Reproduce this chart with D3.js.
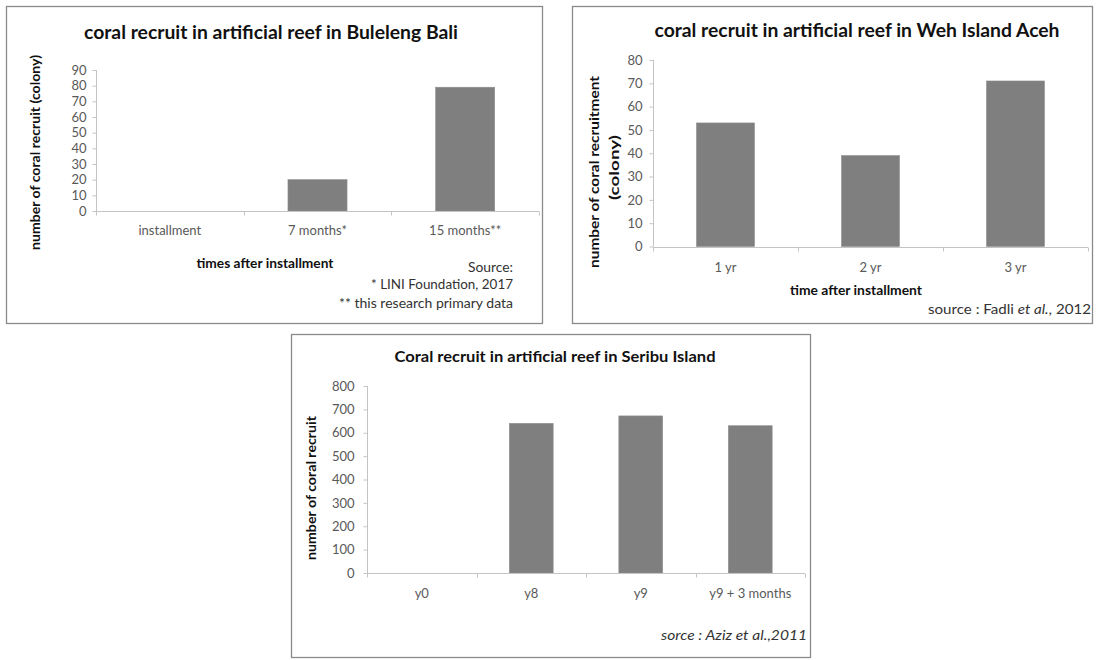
<!DOCTYPE html>
<html>
<head>
<meta charset="utf-8">
<script src="https://cdn.jsdelivr.net/npm/d3@7/dist/d3.min.js"></script>
<style>
  html, body { margin: 0; padding: 0; background: #ffffff; }
  svg { display: block; }
  text { font-family: Lato, "Open Sans", sans-serif; }
</style>
</head>
<body>
<svg id="chart" width="1099" height="660"></svg>
<script>
// ---- Buleleng Bali ----
const bulelengCategories = ["installment", "7 months*", "15 months**"];
const bulelengValues = [0, 20, 79];
const bulelengTicks = [0, 10, 20, 30, 40, 50, 60, 70, 80, 90];
const bulelengTitle = "coral recruit in artificial reef in Buleleng Bali";
const bulelengYTitle = ["number of coral recruit (colony)"];
const bulelengXTitle = "times after installment";
const bulelengSource = ["Source:", "* LINI Foundation, 2017", "** this research primary data"];

// ---- Weh Island Aceh ----
const wehCategories = ["1 yr", "2 yr", "3 yr"];
const wehValues = [53, 39, 71];
const wehTicks = [0, 10, 20, 30, 40, 50, 60, 70, 80];
const wehTitle = "coral recruit in artificial reef in Weh Island Aceh";
const wehYTitle = ["number of coral recruitment", "(colony)"];
const wehXTitle = "time after installment";

// ---- Seribu Island ----
const seribuCategories = ["y0", "y8", "y9", "y9 + 3 months"];
const seribuValues = [0, 640, 672, 630];
const seribuTicks = [0, 100, 200, 300, 400, 500, 600, 700, 800];
const seribuTitle = "Coral recruit in artificial reef in Seribu Island";
const seribuYTitle = ["number of coral recruit"];

const svg = d3.select("#chart");

const BAR = "#7f7f7f";
const AXIS = "#c4c4c4";
const TICKTEXT = "#595959";
const FRAME = "#8a8a8a";

// stretch or shrink a text element to a given rendered width
function fit(sel, width) {
  sel.each(function () {
    const w = this.getComputedTextLength();
    if (Math.abs(w - width) > 1) {
      d3.select(this).attr("textLength", width).attr("lengthAdjust", "spacingAndGlyphs");
    }
  });
  return sel;
}

function drawPanel(cfg) {
  const g = svg.append("g");

  // outer frame
  g.append("rect")
    .attr("x", cfg.box[0] + 0.5).attr("y", cfg.box[1] + 0.5)
    .attr("width", cfg.box[2] - cfg.box[0]).attr("height", cfg.box[3] - cfg.box[1])
    .attr("fill", "#fff").attr("stroke", FRAME).attr("stroke-width", 1.3);

  const x = d3.scaleBand()
    .domain(cfg.categories)
    .range([cfg.plotX[0], cfg.plotX[1]])
    .paddingInner(0.6)
    .paddingOuter(0.3);

  const y = d3.scaleLinear()
    .domain([0, d3.max(cfg.ticks)])
    .range([cfg.plotY[0], cfg.plotY[1]]);

  // y axis
  const yAxis = g.append("g")
    .attr("transform", `translate(${cfg.plotX[0] + 0.5},0)`)
    .call(d3.axisLeft(y).tickValues(cfg.ticks).tickSize(4).tickPadding(cfg.tickPad).tickFormat(d3.format("d")));
  yAxis.select(".domain").attr("stroke", AXIS).attr("d", `M0,${y(0)}V${y(d3.max(cfg.ticks))}`);
  yAxis.selectAll(".tick line").attr("stroke", AXIS);
  yAxis.selectAll(".tick text")
    .attr("fill", TICKTEXT)
    .style("font-size", cfg.tickFont + "px")
    .style("font-family", "Lato, sans-serif");

  // bars
  g.selectAll("rect.bar")
    .data(cfg.values)
    .join("rect")
    .attr("class", "bar")
    .attr("x", (d, i) => x(cfg.categories[i]))
    .attr("width", x.bandwidth())
    .attr("y", d => y(d))
    .attr("height", d => y(0) - y(d))
    .attr("fill", BAR)
    .attr("stroke", "#8e8e8e")
    .attr("stroke-width", 0.6);

  // x axis baseline and separators between categories
  const step = x.step();
  const y0 = Math.round(y(0)) + 0.5;
  g.append("line")
    .attr("x1", cfg.plotX[0]).attr("x2", cfg.plotX[1])
    .attr("y1", y0).attr("y2", y0)
    .attr("stroke", AXIS).attr("stroke-width", 1);
  g.selectAll("line.sep")
    .data(d3.range(cfg.categories.length + 1))
    .join("line")
    .attr("class", "sep")
    .attr("x1", i => Math.round(cfg.plotX[0] + i * step) + 0.5)
    .attr("x2", i => Math.round(cfg.plotX[0] + i * step) + 0.5)
    .attr("y1", y0).attr("y2", y0 + 4)
    .attr("stroke", AXIS);

  // category labels
  g.selectAll("text.cat")
    .data(cfg.categories)
    .join("text")
    .attr("class", "cat")
    .attr("x", d => x(d) + x.bandwidth() / 2)
    .attr("y", cfg.catY)
    .attr("text-anchor", "middle")
    .attr("dominant-baseline", "central")
    .attr("fill", TICKTEXT)
    .style("font-size", cfg.tickFont + "px")
    .text(d => d);

  // chart title
  fit(g.append("text")
    .attr("x", cfg.title.x).attr("y", cfg.title.y)
    .attr("text-anchor", "middle").attr("dominant-baseline", "central")
    .style("font-size", cfg.title.size + "px").style("font-weight", 700)
    .attr("fill", "#111")
    .text(cfg.title.text), cfg.title.width);

  // vertical axis title (one or more lines)
  cfg.yTitle.lines.forEach((line, i) => {
    fit(g.append("text")
      .attr("transform", `translate(${cfg.yTitle.xs[i]},${cfg.yTitle.ys[i]}) rotate(-90)`)
      .attr("text-anchor", "middle").attr("dominant-baseline", "central")
      .style("font-size", cfg.yTitle.size + "px").style("font-weight", 700)
      .attr("fill", "#111")
      .text(line), cfg.yTitle.widths[i]);
  });

  // horizontal axis title
  if (cfg.xTitle) {
    fit(g.append("text")
      .attr("x", cfg.xTitle.x).attr("y", cfg.xTitle.y)
      .attr("text-anchor", "middle").attr("dominant-baseline", "central")
      .style("font-size", cfg.xTitle.size + "px").style("font-weight", 700)
      .attr("fill", "#111")
      .text(cfg.xTitle.text), cfg.xTitle.width);
  }
  return g;
}

// Buleleng Bali
const p1 = drawPanel({
  box: [6, 6, 542, 323],
  categories: bulelengCategories, values: bulelengValues, ticks: bulelengTicks,
  plotX: [96, 539], plotY: [211, 70],
  tickFont: 13, tickPad: 6, catY: 230,
  title: { text: bulelengTitle, x: 271, y: 32, size: 18, width: 374 },
  yTitle: { lines: bulelengYTitle, xs: [35], ys: [152.5], size: 12.5, widths: [195] },
  xTitle: { text: bulelengXTitle, x: 265, y: 263, size: 13, width: 137 }
});
const srcYs = [267, 284, 303];
const srcWs = [45, 142, 174];
bulelengSource.forEach((s, i) => {
  fit(p1.append("text")
    .attr("x", 513).attr("y", srcYs[i])
    .attr("text-anchor", "end").attr("dominant-baseline", "central")
    .style("font-size", "12.5px").attr("fill", "#333")
    .text(s), srcWs[i]);
});

// Weh Island Aceh
const p2 = drawPanel({
  box: [572, 6, 1092, 323],
  categories: wehCategories, values: wehValues, ticks: wehTicks,
  plotX: [653, 1088], plotY: [246.5, 60],
  tickFont: 13, tickPad: 7, catY: 267,
  title: { text: wehTitle, x: 857, y: 29.5, size: 19, width: 405 },
  yTitle: { lines: wehYTitle, xs: [593.5, 613.5], ys: [172, 167.5], size: 14, widths: [192, 65] },
  xTitle: { text: wehXTitle, x: 856, y: 290, size: 13, width: 132 }
});
const wehSrc = p2.append("text")
  .attr("x", 1091).attr("y", 309)
  .attr("text-anchor", "end").attr("dominant-baseline", "central")
  .style("font-size", "13px").attr("fill", "#333");
wehSrc.append("tspan").text("source : Fadli ");
wehSrc.append("tspan").style("font-style", "italic").text("et al.");
wehSrc.append("tspan").text(", 2012");
fit(wehSrc, 163);

// Seribu Island
const p3 = drawPanel({
  box: [291, 334, 810, 657],
  categories: seribuCategories, values: seribuValues, ticks: seribuTicks,
  plotX: [367, 805], plotY: [573, 386],
  tickFont: 13, tickPad: 9, catY: 593,
  title: { text: seribuTitle, x: 555, y: 356, size: 15.5, width: 321 },
  yTitle: { lines: seribuYTitle, xs: [311.5], ys: [488], size: 12.5, widths: [144] },
  xTitle: null
});
fit(p3.append("text")
  .attr("x", 807).attr("y", 635)
  .attr("text-anchor", "end").attr("dominant-baseline", "central")
  .style("font-size", "13px").style("font-style", "italic").attr("fill", "#333")
  .text("sorce : Aziz et al.,2011"), 146);
</script>
</body>
</html>
